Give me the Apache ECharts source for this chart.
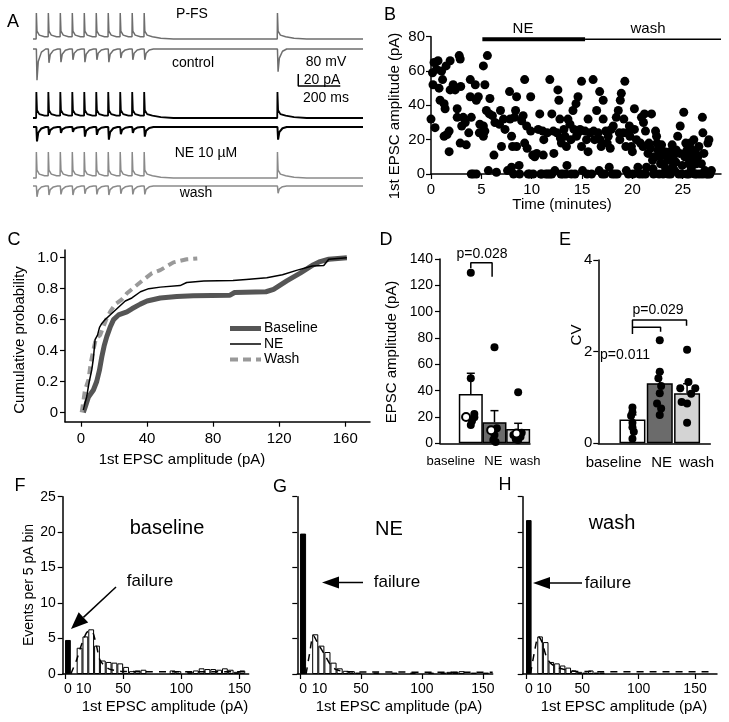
<!DOCTYPE html>
<html>
<head>
<meta charset="utf-8">
<script src="https://cdn.jsdelivr.net/npm/echarts@6/dist/echarts.min.js"></script>
<style>html,body{margin:0;background:#fff}#chart{width:729px;height:722px}</style>
</head>
<body>
<div id="chart"></div>
<script>
var FONT = 'Liberation Sans, Arial, sans-serif';

// A: example traces (spike times in ms, EPSC amplitudes in pA)
var spikeTimes = [15, 72, 129, 186, 243, 300, 357, 414, 471, 528, 1162];
var spikeMV = 100;
var epscControl = [52, 23, 22, 18, 22, 18, 22, 15, 18, 18, 38];
var epscNE = [24, 13, 10, 8, 16, 13, 21, 12, 10, 16, 21];
var epscWash = [18, 15, 14, 15, 13, 14, 15, 13, 14, 14, 12];

// B: 1st EPSC amplitude over time [minutes, pA]
var bPoints = [
  [0,32],[0.15,59],[0.2,52],[0.4,27],[0.3,65],[0.55,61],[0.7,66],[0.9,43],[0.8,50],[1.05,60],[1.15,55],[1.3,41],
  [1.5,63],[1.4,38],[1.3,22],[1.6,23],[1.8,13],[1.9,66],[1.9,49],[1.8,25],[2.2,52],[2.4,49],[2.6,38],[2.6,33],
  [2.8,69],[2.9,67],[2.95,51],[3.05,28],[3.2,33],[3.4,30],[2.9,18],[3.5,17],[3.75,24],[3.9,55],[3.9,45],[4.0,33],
  [4.0,0],[4.4,52],[4.5,43],[4.5,0],[4.7,45],[4.8,24],[4.85,29],[5.2,63],[5.35,52],[5.6,69],[5.2,28],[5.2,22],
  [5.35,25],[5.5,37],[5.7,2],[5.8,35],[5.85,44],[6.1,34],[6.25,11],[6.35,30],[6.5,1],[6.8,29],[6.9,37],[7.0,16],
  [7.2,32],[7.35,26],[7.6,2],[7.8,48],[7.85,32],[8.0,22],[8.1,16],[8.0,4],[8.3,33],[8.4,37],[8.5,45],[8.5,16],
  [8.75,5],[8.8,0],[9.0,31],[9.15,34],[9.3,55],[9.3,18],[9.5,28],[9.55,15],[9.65,0],[9.9,45],[9.9,25],[10.1,11],
  [10.15,0],[10.3,10],[10.5,12],[10.65,26],[10.8,35],[10.9,0],[11.1,25],[11.15,11],[11.2,20],[11.4,0],[11.55,24],
  [11.8,55],[11.8,0],[12.0,35],[12.15,25],[12.2,12],[12.3,2],[12.5,24],[12.6,49],[12.7,43],[12.8,32],[12.85,21],
  [12.95,18],[13.1,0],[13.2,26],[13.3,22],[13.45,16],[13.5,5],[13.6,32],[13.8,29],[13.9,20],[13.95,0],[14.1,37],
  [14.2,26],[14.4,41],[14.45,22],[14.6,45],[14.6,24],[14.8,26],[14.95,54],[14.95,16],[15.05,2],[15.3,25],[15.45,20],
  [15.6,32],[15.6,13],[15.8,24],[15.95,0],[16.1,55],[16.15,25],[16.25,20],[16.45,37],[16.6,24],[16.7,2],[16.75,48],
  [16.8,20],[16.9,16],[17.1,32],[17.1,43],[17.25,0],[17.35,25],[17.5,18],[17.6,22],[17.7,4],[17.8,15],[17.9,26],
  [18.1,28],[18.25,0],[18.4,33],[18.6,37],[18.7,24],[18.75,20],[18.8,43],[18.9,47],[19.1,24],[19.15,32],[19.25,54],
  [19.35,16],[19.4,2],[19.5,24],[19.7,28],[19.75,22],[19.9,16],[20.0,13],[20.05,0],[20.2,38],[20.2,26],[20.4,20],
  [20.55,4],[20.8,18],[20.9,33],[21.0,0],[21.05,16],[21.1,30],[21.2,35],[21.3,25],[21.4,4],[21.55,12],[21.65,18],
  [21.8,15],[21.9,35],[22.0,8],[22.05,3],[22.2,10],[22.3,25],[22.4,22],[22.45,18],[22.55,14],[22.65,0],[22.7,10],
  [22.8,6],[22.9,17],[23.05,0],[23.1,6],[23.2,13],[23.3,3],[23.4,10],[23.55,0],[23.65,8],[23.7,13],[23.85,3],
  [23.95,17],[24.05,10],[24.1,6],[24.2,2],[24.3,7],[24.35,14],[24.5,22],[24.6,0],[24.7,12],[24.75,28],[24.95,5],
  [25.1,36],[25.2,10],[25.3,18],[25.35,13],[25.4,0],[25.5,15],[25.6,6],[25.7,10],[25.75,18],[25.85,3],[25.95,14],
  [26.0,8],[26.1,20],[26.2,0],[26.3,12],[26.35,6],[26.5,10],[26.6,16],[26.7,0],[26.85,6],[26.95,33],[27.0,24],
  [27.1,12],[27.2,2],[27.35,0],[27.5,18],[27.6,20],[27.7,0],[27.85,2],
  [4.2,0],[8.2,0],[9.8,0],[11.0,0],[11.6,0],[12.0,0],[12.9,0],[13.4,0],[14.3,0],[15.5,0],[17.0,0],[18.0,0],
  [18.5,0],[19.6,0],[20.7,0],[21.3,0],[22.1,0],[23.8,0],[24.9,0],[25.6,0],[26.4,0],[27.0,0],[27.5,0]
];
var neOn = 5.1, neOff = 15.3, washOff = 28.8, condLevel = 78.5;

// C: cumulative probability [pA, p]
var cdfBaseline = [[1.4,0],[2.4,0.03],[4.5,0.1],[7.5,0.145],[9.5,0.2],[11.2,0.275],[12.6,0.36],[14,0.43],[15.6,0.49],
  [17.6,0.55],[19.7,0.6],[22.7,0.63],[27.8,0.65],[30.8,0.67],[35.9,0.7],[40,0.72],[44,0.73],[48,0.74],[58,0.75],
  [68,0.755],[90,0.757],[93,0.775],[112,0.78],[116.6,0.795],[124.6,0.85],[132.7,0.9],[140.8,0.955],[144.8,0.975],
  [150,0.99],[161,1.0]];
var cdfNE = [[1.4,0.015],[2.4,0.06],[3.4,0.1],[5,0.2],[6.5,0.275],[7.5,0.35],[8.5,0.47],[10,0.5],[11.2,0.55],
  [12.6,0.575],[14.6,0.6],[17.6,0.63],[21.7,0.67],[26.8,0.72],[30.8,0.74],[36,0.78],[41,0.8],[48,0.81],[60,0.82],
  [64,0.84],[74.4,0.85],[92,0.853],[100,0.86],[112.5,0.87],[122,0.89],[131,0.92],[140,0.946],[147,0.95],
  [150,0.99],[161,1.0]];
var cdfWash = [[0.4,0],[1.4,0.07],[2.4,0.145],[4.5,0.21],[5.9,0.32],[7.5,0.405],[9.1,0.48],[11.6,0.5],[13.6,0.556],
  [15.6,0.61],[17.6,0.65],[20.7,0.7],[24.7,0.73],[27.8,0.77],[31.8,0.805],[36.9,0.85],[43,0.9],[48,0.92],
  [56,0.97],[64,0.99],[70.4,0.995]];
var cdfNames = ['Baseline', 'NE', 'Wash'];

// D: EPSC amplitude summary (0 baseline, 1 NE, 2 wash)
var groups = ['baseline', 'NE', 'wash'];
var barColors = ['#ffffff', '#6b6b6b', '#d4d4d4'];
var dMean = [37.4, 16, 10.9];
var dUpper = [53.2, 24.8, 15.2];
var dDots = [[0,129.6],[0,49.4],[0.15,22.3],[0.15,19.8],[0,13.9],[0.05,17],[1,72.9],[1.1,11.4],[1.0,6.3],
  [0.95,2.5],[1.05,1],[2,38.7],[1.8,6.3],[2.1,5],[2.0,2.5],[2.15,8],[1.9,3]];
var dOpen = [[-0.2,20],[0.86,10],[1.93,7.5]];

// E: CV summary
var eMean = [0.52, 1.31, 1.09];
var eUpper = [0.62, 1.55, 1.3];
var eDots = [[0,0.78],[0,0.68],[-0.05,0.6],[0,0.45],[0,0.35],[0.05,0.25],[0,0.1],
  [1,2.25],[1,1.56],[0.95,1.42],[1.05,1.25],[1,1.09],[0.9,0.87],[1.05,0.76],[1,0.62],
  [2,2.04],[2.05,1.34],[2.3,1.2],[1.75,1.2],[2.15,1.08],[2.0,0.87],[1.8,0.9],[2,0.45]];

// F-H: histograms, 5 pA bins
var binCenters = [12.5,17.5,22.5,27.5,32.5,37.5,42.5,47.5,52.5,57.5,62.5,67.5,72.5,77.5,82.5,87.5,92.5,97.5,
  102.5,107.5,112.5,117.5,122.5,127.5,132.5,137.5,142.5,147.5,152.5,157.5];
var failCenter = 2.5;
var failF = 4.8, failG = 19.8, failH = 21.7;
var histF = [3.7,5.3,6.3,4.0,1.9,1.7,1.6,1.5,1.0,0.4,0.5,0.6,0,0,0,0,0.5,0.4,0,0.3,0.5,0.8,0.7,0.7,0.6,0.8,0.6,0.3,0.5,0];
var histG = [5.6,4.0,3.1,1.6,0.8,0.45,0.4,0.2,0,0,0.2,0,0,0.2,0,0,0.2,0,0,0.2,0,0.2,0.3,0.3,0.4,0,0.2,0,0.2,0];
var histH = [5.3,4.5,1.7,1.5,1.2,0.9,0.5,0.3,0.2,0.5,0.2,0.2,0,0,0,0,0,0,0,0,0,0,0,0,0,0,0,0,0,0];
var fitF = [[5,0],[10,2],[15,4.5],[20,6],[23,6],[27,4],[30,2],[35,1],[40,0.6],[50,0.35],[160,0.3]];
var fitG = [[5,0],[8,3],[11,5.4],[15,4.2],[20,2.8],[25,1.3],[30,0.6],[40,0.3],[158,0.25]];
var fitH = [[4,0],[8,3.5],[11,5.3],[14,4.6],[18,2.5],[22,1.5],[30,0.8],[45,0.35],[163,0.3]];

var chart = echarts.init(document.getElementById('chart'));

// trace builders for panel A
var V_SCALE = 0.26, I_SCALE = 0.6, T_END = 1570;
function vTrace(base) {
    var h = spikeMV * V_SCALE, pts = [[0, base]];
    spikeTimes.forEach(function (t, i) {
        var next = spikeTimes[i + 1] || T_END;
        pts.push([t, pts[pts.length - 1][1]], [t + 1, base + h], [t + 4, base + 0.3 * h],
            [t + 15, base + 0.15 * h], [t + 40, base + 0.09 * h]);
        if (next - t > 100) pts.push([t + 80, base + 0.03 * h], [t + 140, base]);
    });
    pts.push([T_END, base]);
    return pts;
}
function iTrace(base, amps) {
    var pts = [[0, base]];
    spikeTimes.forEach(function (t, i) {
        var a = amps[i] * I_SCALE;
        pts.push([t + 1, base], [t + 4, base - a], [t + 10, base - 0.4 * a], [t + 25, base - 0.1 * a], [t + 45, base]);
    });
    pts.push([T_END, base]);
    return pts;
}
function trace(data, color, width) {
    return { type: 'line', xAxisIndex: 0, yAxisIndex: 0, data: data, symbol: 'none',
        lineStyle: { color: color, width: width } };
}

function axisBase(extra) {
    var a = {
        type: 'value',
        axisLine: { show: true, onZero: false, lineStyle: { color: '#000', width: 1.5 } },
        axisTick: { show: true, length: 5, lineStyle: { color: '#000', width: 1.2 } },
        axisLabel: { color: '#000', fontSize: 14, fontFamily: FONT },
        splitLine: { show: false }
    };
    for (var k in extra) {
        if (typeof extra[k] === 'object' && !Array.isArray(extra[k]) && a[k]) {
            for (var j in extra[k]) a[k][j] = extra[k][j];
        } else a[k] = extra[k];
    }
    return a;
}

function errorBars(xi, yi, means, uppers) {
    return {
        type: 'custom', xAxisIndex: xi, yAxisIndex: yi, z: 4,
        data: means.map(function (m, i) { return [i, m, uppers[i]]; }),
        renderItem: function (params, api) {
            var p0 = api.coord([api.value(0), api.value(1)]);
            var p1 = api.coord([api.value(0), api.value(2)]);
            var st = { stroke: '#000', lineWidth: 1.5 };
            return { type: 'group', children: [
                { type: 'line', shape: { x1: p0[0], y1: p0[1], x2: p1[0], y2: p1[1] }, style: st },
                { type: 'line', shape: { x1: p1[0] - 4, y1: p1[1], x2: p1[0] + 4, y2: p1[1] }, style: st }
            ] };
        }
    };
}

function summaryBars(xi, yi, means, width) {
    return {
        type: 'bar', xAxisIndex: xi, yAxisIndex: yi, barWidth: width,
        data: means.map(function (m, i) {
            return { value: [i, m], itemStyle: { color: barColors[i], borderColor: '#000', borderWidth: 1.5 } };
        })
    };
}

function dots(xi, yi, data, fill) {
    return { type: 'scatter', xAxisIndex: xi, yAxisIndex: yi, data: data, symbolSize: 8, z: 5, clip: false,
        itemStyle: { color: fill, opacity: 1, borderColor: '#000', borderWidth: fill === '#000' ? 0 : 2 } };
}

function histSeries(xi, yi, fail, hist, width) {
    var data = [{ value: [failCenter, fail], itemStyle: { color: '#000', borderColor: '#000' } }];
    binCenters.forEach(function (c, i) {
        if (hist[i] > 0) data.push({ value: [c, hist[i]] });
    });
    return {
        type: 'bar', xAxisIndex: xi, yAxisIndex: yi, barWidth: width,
        itemStyle: { color: '#fff', borderColor: '#000', borderWidth: 1 },
        data: data
    };
}
function fitSeries(xi, yi, pts) {
    return { type: 'line', xAxisIndex: xi, yAxisIndex: yi, data: pts, smooth: 0.3, symbol: 'none', z: 5,
        lineStyle: { color: '#000', width: 1.5, type: [7, 6] } };
}

function txt(x, y, s, size, rot, align) {
    var al = align || 'center';
    return { type: 'text', x: x, y: y, rotation: rot || 0, z: 10,
        style: { text: s, fill: '#000', font: size + 'px ' + FONT,
            textAlign: al, textVerticalAlign: 'middle', align: al, verticalAlign: 'middle' } };
}
function seg(x1, y1, x2, y2, color, width, dash) {
    return { type: 'line', z: 10, shape: { x1: x1, y1: y1, x2: x2, y2: y2 },
        style: { stroke: color, lineWidth: width, lineDash: dash || null } };
}
function arrow(x1, y1, x2, y2, head, half) {
    var dx = x2 - x1, dy = y2 - y1, L = Math.sqrt(dx * dx + dy * dy), ux = dx / L, uy = dy / L;
    var bx = x2 - ux * head, by = y2 - uy * head;
    return [
        seg(x1, y1, bx, by, '#000', 1.5),
        { type: 'polygon', z: 10, shape: { points: [[x2, y2], [bx - uy * half, by + ux * half], [bx + uy * half, by - ux * half]] },
            style: { fill: '#000' } }
    ];
}

var R90 = Math.PI / 2;
var sbT = 1262, sbY = -86;
var histTickVals = [0, 50, 100, 150];
var histLabelVals = [2.5, 16, 50, 100, 150];
function histLabel(v) { return v < 5 ? '0' : v < 20 ? '10' : String(v); }

// legend key for panel C
var cdfStyles = [
    { color: '#555', width: 5, dash: null },
    { color: '#000', width: 1.5, dash: null },
    { color: '#999', width: 4, dash: [8, 5] }
];
var legendEls = [];
cdfNames.forEach(function (n, i) {
    var y = 328.5 + i * 15.5, s = cdfStyles[i];
    legendEls.push(seg(230, y, 261, y, s.color, s.width, s.dash), txt(264, y, n, 14, 0, 'left'));
});

var graphics = [
    txt(13, 22, 'A', 18), txt(390, 15, 'B', 18), txt(14, 240, 'C', 18), txt(386, 240, 'D', 18),
    txt(565, 240, 'E', 18), txt(20, 486, 'F', 18), txt(280, 487, 'G', 18), txt(505, 485, 'H', 18),
    txt(192, 14, 'P-FS', 14), txt(193, 63, 'control', 14), txt(326, 62, '80 mV', 14),
    txt(322, 80, '20 pA', 14), txt(326, 98, '200 ms', 14), txt(206, 153, 'NE 10 \u00b5M', 14),
    txt(196, 193, 'wash', 14),
    txt(523, 29, 'NE', 15), txt(648, 29, 'wash', 15),
    txt(395, 116, '1st EPSC amplitude (pA)', 15, R90), txt(562, 205, 'Time (minutes)', 15),
    txt(20, 340, 'Cumulative probability', 15, R90), txt(182, 460, '1st EPSC amplitude (pA)', 15),
    txt(392, 352, 'EPSC amplitude (pA)', 15, R90), txt(577, 335, 'CV', 15, R90),
    txt(482, 254, 'p=0.028', 14), txt(658, 310, 'p=0.029', 14), txt(625, 355, 'p=0.011', 14),
    txt(29, 585, 'Events per 5 pA bin', 14, R90),
    txt(165, 707, '1st EPSC amplitude (pA)', 15), txt(399, 707, '1st EPSC amplitude (pA)', 15),
    txt(624, 707, '1st EPSC amplitude (pA)', 15),
    txt(167, 528, 'baseline', 20), txt(389, 529, 'NE', 20), txt(612, 523, 'wash', 20),
    txt(150, 581, 'failure', 17), txt(397, 582, 'failure', 17), txt(608, 583, 'failure', 17)
].concat(legendEls,
    arrow(116, 587, 71, 629, 17, 7), arrow(363, 582.5, 322, 582.5, 17, 6), arrow(582, 583, 533, 583, 17, 6));

chart.setOption({
    animation: false,
    backgroundColor: '#fff',
    textStyle: { fontFamily: FONT },
    grid: [
        { left: 33, top: 0, width: 330, height: 200 },
        { left: 431, top: 36.7, width: 290, height: 137.3 },
        { left: 65, top: 250, width: 305, height: 171.7 },
        { left: 440, top: 259, width: 90, height: 184.3 },
        { left: 598.3, top: 260, width: 112, height: 183.3 },
        { left: 62.7, top: 496.7, width: 186, height: 177.3 },
        { left: 297.3, top: 496.7, width: 195.4, height: 177.3 },
        { left: 522.7, top: 496.7, width: 194.3, height: 177.3 }
    ],
    xAxis: [
        { gridIndex: 0, type: 'value', min: 0, max: T_END, show: false },
        axisBase({ gridIndex: 1, min: 0, max: washOff,
            axisTick: { customValues: [0, 5, 10, 15, 20, 25] },
            axisLabel: { customValues: [0, 5, 10, 15, 20, 25], fontSize: 15, margin: 8 } }),
        axisBase({ gridIndex: 2, min: -9.7, max: 175,
            axisTick: { customValues: [0, 40, 80, 120, 160] },
            axisLabel: { customValues: [0, 40, 80, 120, 160], fontSize: 15, margin: 10 } }),
        axisBase({ gridIndex: 3, min: -1.3, max: 2.5, axisTick: { show: false },
            axisLabel: { customValues: [-0.85, 0.95, 2.3], fontSize: 13, margin: 12,
                formatter: function (v) { return v < 0 ? groups[0] : v < 2 ? groups[1] : groups[2]; } } }),
        axisBase({ gridIndex: 4, min: -1.25, max: 2.85, axisTick: { show: false },
            axisLabel: { customValues: [-0.69, 1.07, 2.35], fontSize: 15, margin: 12,
                formatter: function (v) { return v < 0 ? groups[0] : v < 2 ? groups[1] : groups[2]; } } }),
        axisBase({ gridIndex: 5, min: -2, max: 158, axisTick: { customValues: histTickVals },
            axisLabel: { customValues: histLabelVals, formatter: histLabel, margin: 8 } }),
        axisBase({ gridIndex: 6, min: -2.2, max: 158, axisTick: { customValues: histTickVals },
            axisLabel: { customValues: histLabelVals, formatter: histLabel, margin: 8 } }),
        axisBase({ gridIndex: 7, min: -2.9, max: 169.5, axisTick: { customValues: histTickVals },
            axisLabel: { customValues: histLabelVals, formatter: histLabel, margin: 8 } })
    ],
    yAxis: [
        { gridIndex: 0, type: 'value', min: -200, max: 0, show: false },
        axisBase({ gridIndex: 1, min: 0, max: 80, interval: 20, axisLabel: { fontSize: 15, margin: 6 } }),
        axisBase({ gridIndex: 2, min: -0.06, max: 1.05,
            axisTick: { customValues: [0, 0.2, 0.4, 0.6, 0.8, 1.0] },
            axisLabel: { customValues: [0, 0.2, 0.4, 0.6, 0.8, 1.0], fontSize: 15, margin: 7,
                formatter: function (v) { return v === 0 ? '0' : v.toFixed(1); } } }),
        axisBase({ gridIndex: 3, min: 0, max: 140, interval: 20, axisLabel: { margin: 7 } }),
        axisBase({ gridIndex: 4, min: 0, max: 4, axisTick: { customValues: [0, 2, 4] },
            axisLabel: { customValues: [0, 2, 4], fontSize: 15, margin: 6 } }),
        axisBase({ gridIndex: 5, min: 0, max: 25, interval: 5, axisLabel: { margin: 7 } }),
        axisBase({ gridIndex: 6, min: 0, max: 25, interval: 5, axisLabel: { show: false } }),
        axisBase({ gridIndex: 7, min: 0, max: 25, interval: 5, axisLabel: { show: false } })
    ],
    series: [
        // A
        trace(vTrace(-39), '#6e6e6e', 1.5),
        trace(iTrace(-49, epscControl), '#6e6e6e', 1.5),
        trace(vTrace(-118), '#000', 1.8),
        trace(iTrace(-127, epscNE), '#000', 2),
        trace(vTrace(-178), '#8a8a8a', 1.5),
        trace(iTrace(-186, epscWash), '#8a8a8a', 1.5),
        trace([[sbT, sbY + 20 * I_SCALE], [sbT, sbY], [sbT + 200, sbY]], '#000', 1.5),
        // B
        { type: 'scatter', xAxisIndex: 1, yAxisIndex: 1, data: bPoints, symbolSize: 9, clip: false,
            itemStyle: { color: '#000', opacity: 1 } },
        { type: 'line', xAxisIndex: 1, yAxisIndex: 1, data: [[neOn, condLevel], [neOff, condLevel]], symbol: 'none',
            lineStyle: { color: '#000', width: 4 } },
        { type: 'line', xAxisIndex: 1, yAxisIndex: 1, data: [[neOff, condLevel], [washOff, condLevel]], symbol: 'none',
            lineStyle: { color: '#000', width: 1.5 } },
        // C
        { type: 'line', name: cdfNames[0], xAxisIndex: 2, yAxisIndex: 2, data: cdfBaseline, symbol: 'none',
            lineStyle: { color: cdfStyles[0].color, width: cdfStyles[0].width } },
        { type: 'line', name: cdfNames[2], xAxisIndex: 2, yAxisIndex: 2, data: cdfWash, symbol: 'none',
            lineStyle: { color: cdfStyles[2].color, width: cdfStyles[2].width, type: cdfStyles[2].dash } },
        { type: 'line', name: cdfNames[1], xAxisIndex: 2, yAxisIndex: 2, data: cdfNE, symbol: 'none',
            lineStyle: { color: cdfStyles[1].color, width: cdfStyles[1].width } },
        // D
        summaryBars(3, 3, dMean, 24),
        errorBars(3, 3, dMean, dUpper),
        dots(3, 3, dDots, '#000'),
        dots(3, 3, dOpen, '#fff'),
        { type: 'line', xAxisIndex: 3, yAxisIndex: 3, data: [[0, 133], [0, 137.2], [0.9, 137.2], [0.9, 126.6]],
            symbol: 'none', lineStyle: { color: '#000', width: 1.5 } },
        // E
        summaryBars(4, 4, eMean, 26),
        errorBars(4, 4, eMean, eUpper),
        dots(4, 4, eDots, '#000'),
        { type: 'line', xAxisIndex: 4, yAxisIndex: 4, data: [[0, 2.385], [0, 2.69], [1.98, 2.69], [1.98, 2.566]],
            symbol: 'none', lineStyle: { color: '#000', width: 1.5 } },
        { type: 'line', xAxisIndex: 4, yAxisIndex: 4, data: [[0, 2.53], [1.03, 2.53], [1.03, 2.435]],
            symbol: 'none', lineStyle: { color: '#000', width: 1.5 } },
        // F-H
        histSeries(5, 5, failF, histF, 5.8),
        fitSeries(5, 5, fitF),
        histSeries(6, 6, failG, histG, 6.1),
        fitSeries(6, 6, fitG),
        histSeries(7, 7, failH, histH, 5.6),
        fitSeries(7, 7, fitH)
    ],
    graphic: graphics
});
</script>
</body>
</html>
